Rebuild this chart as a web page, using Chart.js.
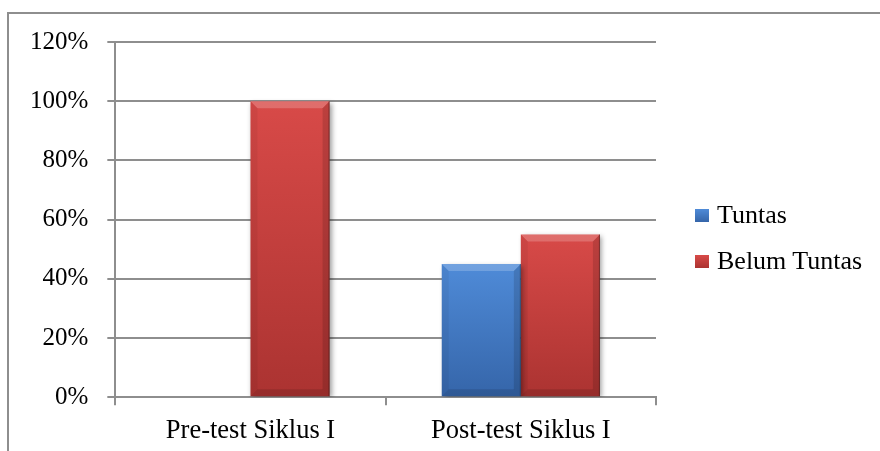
<!DOCTYPE html>
<html>
<head>
<meta charset="utf-8">
<script src="https://cdn.jsdelivr.net/npm/chart.js@4.4.1/dist/chart.umd.min.js"></script>
<style>
  html, body { margin: 0; padding: 0; background: #fff; overflow: hidden; }
  #wrap { position: relative; width: 880px; height: 451px; }
  #frame { position: absolute; left: 7px; top: 12px; width: 1000px; height: 1000px;
           border-top: 2px solid #8e8e8e; border-left: 2px solid #8e8e8e; }
  canvas { position: absolute; left: 0; top: 0; }
  #legend { position: absolute; left: 695px; top: 192px;
            font-family: 'Liberation Serif', 'Times New Roman', serif; font-size: 26px; color: #000; }
  #legend .item { height: 46px; display: flex; align-items: center; white-space: nowrap; }
  #legend .box { width: 14px; height: 13px; margin-right: 8px; flex: none; }
</style>
</head>
<body>
<div id="wrap">
  <div id="frame"></div>
  <canvas id="chart" width="880" height="451"></canvas>
  <div id="legend"></div>
</div>
<script>
// Categories and series (percent of students)
const categories = ['Pre-test Siklus I', 'Post-test Siklus I'];
const seriesNames = ['Tuntas', 'Belum Tuntas'];
const tuntas = [0, 45];
const belumTuntas = [100, 55];

// Value axis
const yMin = 0;
const yMax = 120;
const yStep = 20;

const SERIF = "'Liberation Serif', 'Times New Roman', serif";
const X_FONT = { family: SERIF, size: 26.5 };
const Y_FONT = { family: SERIF, size: 25 };
const GRID = '#8e8e8e';

// Top / bottom shades for each series
const BLUE = ['#4f8bd8', '#3565a9'];
const RED = ['#d84a48', '#ab3331'];

// Vertical gradient spanning each bar, computed through the value scale
function barFill(shades) {
  return (c) => {
    const chart = c.chart;
    const ys = chart.scales && chart.scales.y;
    if (!ys || c.type !== 'data' || c.raw == null) return shades[1];
    const top = ys.getPixelForValue(c.raw);
    const bottom = ys.getPixelForValue(0);
    if (!isFinite(top) || bottom - top < 1) return shades[1];
    const g = chart.ctx.createLinearGradient(0, top, 0, bottom);
    g.addColorStop(0, shades[0]);
    g.addColorStop(1, shades[1]);
    return g;
  };
}

function poly(ctx, pts, fill) {
  ctx.beginPath();
  ctx.moveTo(pts[0][0], pts[0][1]);
  for (let i = 1; i < pts.length; i++) ctx.lineTo(pts[i][0], pts[i][1]);
  ctx.closePath();
  ctx.fillStyle = fill;
  ctx.fill();
}

// Soft drop shadow under the bars plus a bevelled rim on each one
const bevelPlugin = {
  id: 'bevel',
  beforeDatasetsDraw(chart) {
    const ctx = chart.ctx;
    ctx.save();
    ctx.shadowColor = 'rgba(0,0,0,0.38)';
    ctx.shadowBlur = 5;
    ctx.shadowOffsetX = 2;
    ctx.shadowOffsetY = 2;
  },
  afterDatasetsDraw(chart) {
    const ctx = chart.ctx;
    ctx.restore();
    chart.data.datasets.forEach((ds, di) => {
      chart.getDatasetMeta(di).data.forEach((bar) => {
        const p = bar.getProps(['x', 'y', 'base', 'width'], true);
        const h = p.base - p.y;
        if (!(h >= 1)) return;
        const L = p.x - p.width / 2, R = p.x + p.width / 2, T = p.y, B = p.base;
        const b = Math.min(7, h / 2);
        ctx.save();
        poly(ctx, [[L, T], [R, T], [R - b, T + b], [L + b, T + b]], 'rgba(255,255,255,0.2)');
        poly(ctx, [[L, T], [L + b, T + b], [L + b, B - b], [L, B]], 'rgba(0,0,0,0.05)');
        poly(ctx, [[R, T], [R - b, T + b], [R - b, B - b], [R, B]], 'rgba(0,0,0,0.13)');
        poly(ctx, [[L, B], [L + b, B - b], [R - b, B - b], [R, B]], 'rgba(0,0,0,0.12)');
        ctx.fillStyle = 'rgba(0,0,0,0.35)';
        ctx.fillRect(R - 1, T, 1, h);
        ctx.restore();
      });
    });
  }
};

const chart = new Chart(document.getElementById('chart'), {
  type: 'bar',
  data: {
    labels: categories,
    datasets: [
      { label: seriesNames[0], data: tuntas, backgroundColor: barFill(BLUE), borderWidth: 0 },
      { label: seriesNames[1], data: belumTuntas, backgroundColor: barFill(RED), borderWidth: 0 }
    ]
  },
  options: {
    responsive: false,
    animation: false,
    events: [],
    layout: { padding: { left: 11, right: 224, top: 42, bottom: -6 } },
    datasets: { bar: { categoryPercentage: 0.585, barPercentage: 1 } },
    plugins: { legend: { display: false }, tooltip: { enabled: false } },
    scales: {
      x: {
        grid: { display: true, drawOnChartArea: false, drawTicks: true, tickLength: 8,
                color: GRID, lineWidth: 2, offset: true },
        border: { display: true, color: GRID, width: 2 },
        ticks: { font: X_FONT, color: '#000', padding: 10, maxRotation: 0 }
      },
      y: {
        min: yMin, max: yMax,
        grid: { color: GRID, lineWidth: 2, tickLength: 8, drawTicks: true },
        border: { display: true, color: GRID, width: 2 },
        ticks: { stepSize: yStep, font: Y_FONT, color: '#000', padding: 19,
                 callback: (v) => v + '%' }
      }
    }
  },
  plugins: [bevelPlugin]
});

// Legend built from the chart's own datasets
const legendShades = [BLUE, RED];
const legendEl = document.getElementById('legend');
chart.data.datasets.forEach((ds, i) => {
  const item = document.createElement('div');
  item.className = 'item';
  const box = document.createElement('span');
  box.className = 'box';
  box.style.background = 'linear-gradient(' + legendShades[i][0] + ', ' + legendShades[i][1] + ')';
  const txt = document.createElement('span');
  txt.textContent = ds.label;
  item.appendChild(box);
  item.appendChild(txt);
  legendEl.appendChild(item);
});
</script>
</body>
</html>
